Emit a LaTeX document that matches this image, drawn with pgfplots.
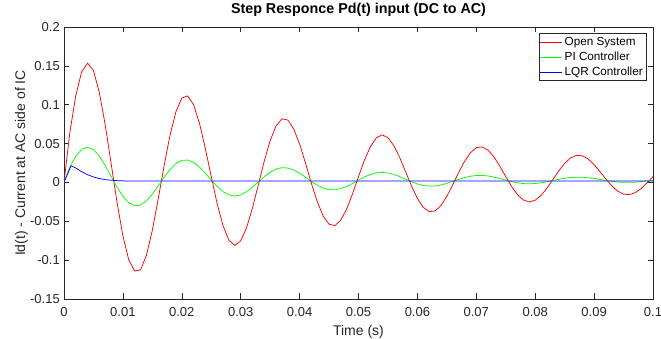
\documentclass[border=0pt]{standalone}
\usepackage{pgfplots}
\usepackage{pgfplotstable}
\pgfplotsset{compat=1.18}
\usepackage{fontspec}
\setmainfont{Liberation Sans}
\definecolor{axgray}{RGB}{38,38,38}
\pgfplotstableread{
t red green
0.000 0.0000 0.0000
0.001 0.0647 0.0200
0.002 0.1117 0.0337
0.003 0.1426 0.0425
0.004 0.1535 0.0453
0.005 0.1439 0.0422
0.006 0.1158 0.0338
0.007 0.0739 0.0217
0.008 0.0244 0.0077
0.009 -0.0254 -0.0061
0.010 -0.0688 -0.0179
0.011 -0.0999 -0.0262
0.012 -0.1140 -0.0300
0.013 -0.1126 -0.0291
0.014 -0.0936 -0.0238
0.015 -0.0615 -0.0151
0.016 -0.0211 -0.0044
0.017 0.0216 0.0066
0.018 0.0608 0.0166
0.019 0.0910 0.0241
0.020 0.1085 0.0283
0.021 0.1114 0.0288
0.022 0.0999 0.0258
0.023 0.0760 0.0197
0.024 0.0436 0.0117
0.025 0.0075 0.0030
0.026 -0.0272 -0.0052
0.027 -0.0557 -0.0119
0.028 -0.0744 -0.0161
0.029 -0.0811 -0.0175
0.030 -0.0752 -0.0160
0.031 -0.0582 -0.0119
0.032 -0.0328 -0.0061
0.033 -0.0028 0.0007
0.034 0.0275 0.0074
0.035 0.0538 0.0131
0.036 0.0726 0.0172
0.037 0.0818 0.0190
0.038 0.0803 0.0185
0.039 0.0688 0.0160
0.040 0.0494 0.0118
0.041 0.0249 0.0066
0.042 -0.0011 0.0012
0.043 -0.0248 -0.0036
0.044 -0.0432 -0.0072
0.045 -0.0538 -0.0093
0.046 -0.0555 -0.0095
0.047 -0.0485 -0.0080
0.048 -0.0340 -0.0051
0.049 -0.0144 -0.0012
0.050 0.0075 0.0030
0.051 0.0285 0.0070
0.052 0.0458 0.0102
0.053 0.0572 0.0123
0.054 0.0612 0.0129
0.055 0.0577 0.0122
0.056 0.0473 0.0102
0.057 0.0319 0.0074
0.058 0.0137 0.0041
0.059 -0.0046 0.0009
0.060 -0.0206 -0.0019
0.061 -0.0320 -0.0039
0.062 -0.0376 -0.0047
0.063 -0.0367 -0.0045
0.064 -0.0297 -0.0033
0.065 -0.0179 -0.0012
0.066 -0.0030 0.0013
0.067 0.0127 0.0039
0.068 0.0271 0.0062
0.069 0.0382 0.0080
0.070 0.0447 0.0089
0.071 0.0457 0.0091
0.072 0.0415 0.0083
0.073 0.0327 0.0069
0.074 0.0208 0.0051
0.075 0.0075 0.0030
0.076 -0.0053 0.0011
0.077 -0.0158 -0.0005
0.078 -0.0226 -0.0015
0.079 -0.0251 -0.0018
0.080 -0.0229 -0.0014
0.081 -0.0167 -0.0005
0.082 -0.0073 0.0009
0.083 0.0037 0.0025
0.084 0.0148 0.0040
0.085 0.0245 0.0054
0.086 0.0315 0.0063
0.087 0.0348 0.0067
0.088 0.0343 0.0066
0.089 0.0301 0.0060
0.090 0.0229 0.0051
0.091 0.0139 0.0038
0.092 0.0043 0.0026
0.093 -0.0044 0.0015
0.094 -0.0111 0.0006
0.095 -0.0151 0.0001
0.096 -0.0157 0.0001
0.097 -0.0131 0.0004
0.098 -0.0078 0.0011
0.099 -0.0006 0.0020
0.100 0.0075 0.0030
}\resp
\begin{document}
\begin{tikzpicture}[x=1pt,y=1pt]
\useasboundingbox (0,0) rectangle (661,339);
\begin{axis}[
  at={(64pt,40pt)}, anchor=south west,
  width=589pt, height=272pt, scale only axis,
  xmin=0, xmax=0.1, ymin=-0.15, ymax=0.2,
  xtick={0,0.01,0.02,0.03,0.04,0.05,0.06,0.07,0.08,0.09,0.1},
  xticklabels={0,0.01,0.02,0.03,0.04,0.05,0.06,0.07,0.08,0.09,0.1},
  ytick={-0.15,-0.1,-0.05,0,0.05,0.1,0.15,0.2},
  yticklabels={-0.15,-0.1,-0.05,0,0.05,0.1,0.15,0.2},
  tick align=inside, xtick pos=both, ytick pos=both,
  major tick length=5.5pt,
  every tick/.style={axgray, line width=0.5pt},
  axis line style={axgray, line width=0.6pt},
  ticklabel style={font=\fontsize{13}{15}\selectfont, text=axgray},
  xticklabel style={anchor=base, inner sep=0pt, yshift=-18pt},
  yticklabel style={anchor=east, inner sep=0pt, xshift=-4pt},
  title={Step Responce Pd(t) input (DC to AC)},
  title style={font=\bfseries\fontsize{14.3}{16}\selectfont, at={(axis description cs:0.5,1)}, anchor=base, yshift=7pt},
  xlabel={Time (s)},
  xlabel style={font=\fontsize{14}{16}\selectfont, text=axgray, at={(axis description cs:0.5,0)}, anchor=base, yshift=-36.5pt},
  ylabel={Id(t) - Current at AC side of IC},
  ylabel style={font=\fontsize{14}{16}\selectfont, text=axgray, at={(axis description cs:-0.0662,0.5)}, anchor=base},
  legend style={at={(axis description cs:1,1)}, anchor=north east, xshift=-7pt, yshift=-6.3pt,
    draw=axgray, line width=0.5pt, fill=white, inner sep=1pt, row sep=0pt,
    font=\fontsize{11.7}{13}\selectfont,
    nodes={inner sep=2pt, text height=8.5pt, text depth=2.5pt}},
  legend cell align=left,
  legend image code/.code={\draw[#1] (0pt,0pt) -- (22pt,0pt);},
]
\addplot[red, line width=0.75pt] table[x=t, y=red] {\resp};
\addplot[green, line width=0.75pt] table[x=t, y=green] {\resp};
\addplot[blue, line width=0.75pt] coordinates {
(0,0) (0.0012,0.0215) (0.002,0.0185) (0.003,0.0138) (0.004,0.0099) (0.005,0.0070)
(0.006,0.0050) (0.007,0.0036) (0.008,0.0028) (0.009,0.0023) (0.010,0.0020)
(0.012,0.0018) (0.015,0.0017) (0.02,0.0017) (0.1,0.0017)};
\legend{Open System, PI Controller, LQR Controller}
\end{axis}
\end{tikzpicture}
\end{document}
